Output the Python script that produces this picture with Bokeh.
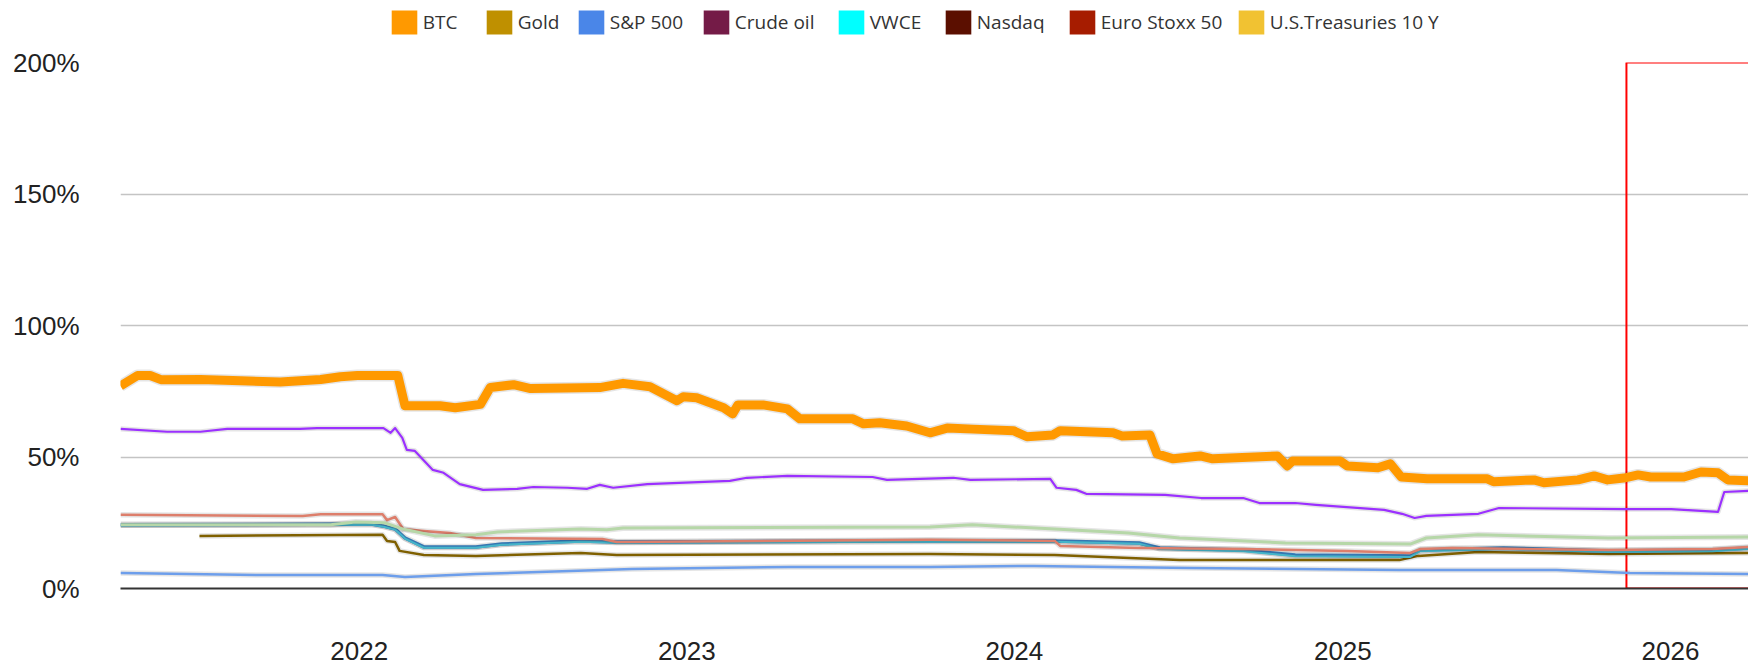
import pandas as pd
from bokeh.plotting import figure
from bokeh.layouts import column
from bokeh.models import (Legend, LegendItem, FixedTicker, DatetimeTickFormatter,
                          PrintfTickFormatter, Range1d, ColumnDataSource)
from bokeh.embed import file_html
from bokeh.resources import INLINE

# ---------------- data ----------------
legend_names = ["BTC", "Gold", "S&P 500", "Crude oil", "VWCE", "Nasdaq",
                "Euro Stoxx 50", "U.S.Treasuries 10 Y"]
legend_colors = ["#FF9900", "#BF9000", "#4A86E8", "#741B47", "#00FFFF",
                 "#5B0F00", "#A61C00", "#F1C232"]

y_ticks = [0, 50, 100, 150, 200]
x_tick_labels = ["2022", "2023", "2024", "2025", "2026"]

btc_dates = ["2021-04-10", "2021-04-29", "2021-05-13", "2021-05-25", "2021-07-08", "2021-08-22",
             "2021-10-05", "2021-11-19", "2021-12-11", "2021-12-30", "2022-02-13", "2022-02-21",
             "2022-04-01", "2022-04-18", "2022-05-16", "2022-05-27", "2022-06-22", "2022-07-11",
             "2022-09-26", "2022-10-22", "2022-11-21", "2022-12-21", "2022-12-28", "2023-01-12",
             "2023-02-11", "2023-02-21", "2023-02-27", "2023-03-27", "2023-04-23", "2023-05-07",
             "2023-07-05", "2023-07-17", "2023-08-04", "2023-09-03", "2023-09-29", "2023-10-18",
             "2023-11-16", "2023-12-31", "2024-01-15", "2024-02-13", "2024-02-21", "2024-04-20",
             "2024-04-30", "2024-05-31", "2024-06-08", "2024-06-26", "2024-07-26", "2024-08-09",
             "2024-10-20", "2024-10-31", "2024-11-06", "2024-12-29", "2025-01-06", "2025-02-09",
             "2025-02-23", "2025-03-07", "2025-04-05", "2025-06-11", "2025-06-18", "2025-08-02",
             "2025-08-13", "2025-09-20", "2025-10-08", "2025-10-23", "2025-11-10", "2025-11-26",
             "2025-12-10", "2026-01-16", "2026-02-04", "2026-02-23", "2026-03-06", "2026-03-29"]
btc_vals = [77, 81, 81, 79.4, 79.5, 79, 78.5, 79.5, 80.5, 81, 81, 69.5,
            69.5, 68.7, 70, 76.4, 77.5, 76, 76.4, 78, 76.7, 71.4, 72.9, 72.5,
            68.7, 66.4, 69.8, 69.8, 68.3, 64.5, 64.5, 62.6, 63, 61.8, 59.2, 61,
            60.6, 60, 57.7, 58.4, 60, 59.2, 58, 58.4, 51.2, 49.3, 50.4, 49.3,
            50.4, 46.6, 48.5, 48.5, 46.6, 45.9, 47.4, 42.4, 41.7, 41.7, 40.6, 41.3,
            40.2, 41.3, 42.8, 41.3, 42, 43.2, 42.4, 42.4, 44.3, 44, 41.3, 41]

purple_dates = ["2021-04-10", "2021-06-01", "2021-07-08", "2021-08-07", "2021-10-27", "2021-11-15",
                "2022-01-28", "2022-02-05", "2022-02-10", "2022-02-18", "2022-02-23", "2022-03-04",
                "2022-03-24", "2022-04-05", "2022-04-23", "2022-05-19", "2022-06-26", "2022-07-14",
                "2022-08-21", "2022-09-12", "2022-09-26", "2022-10-11", "2022-11-18", "2023-02-18",
                "2023-03-09", "2023-04-23", "2023-07-27", "2023-08-12", "2023-10-25", "2023-11-13",
                "2024-02-10", "2024-02-17", "2024-03-10", "2024-03-21", "2024-06-17", "2024-07-27",
                "2024-09-12", "2024-09-30", "2024-11-09", "2024-12-02", "2025-02-16", "2025-03-08",
                "2025-03-22", "2025-04-04", "2025-06-01", "2025-06-24", "2025-11-10", "2026-01-02",
                "2026-02-23", "2026-03-02", "2026-03-29"]
purple_vals = [60.7, 59.6, 59.6, 60.7, 60.7, 61, 61, 59.2, 61, 57.3, 52.7, 52.3,
               45.1, 44, 39.7, 37.5, 37.9, 38.6, 38.3, 37.9, 39.4, 38.3, 39.7, 40.9,
               42.1, 42.8, 42.4, 41.3, 42.1, 41.3, 41.7, 38.3, 37.5, 36, 35.6, 34.4,
               34.4, 32.5, 32.5, 31.8, 29.9, 28.4, 26.8, 27.6, 28.4, 30.6, 30.2, 30.2,
               29.1, 36.7, 37.1]

salmon_dates = ["2021-04-10", "2021-10-30", "2021-11-19", "2022-01-27", "2022-02-01", "2022-02-10",
                "2022-02-19", "2022-03-14", "2022-04-12", "2022-05-11", "2022-09-29", "2022-10-15",
                "2023-09-29", "2024-02-15", "2024-02-21", "2024-05-19", "2024-09-12", "2025-01-06",
                "2025-03-17", "2025-03-28", "2025-05-03", "2025-10-24", "2026-02-17", "2026-03-29"]
salmon_vals = [28, 27.6, 28.2, 28.2, 26, 27.2, 22.6, 21.9, 21.1, 19.2, 18.8, 17.7,
               18.5, 18.1, 16.2, 15.4, 15, 14.3, 13.5, 15, 15.4, 14.6, 15, 15.8]

green_dates = ["2021-04-10", "2021-11-30", "2021-12-28", "2022-01-29", "2022-02-19", "2022-03-26",
               "2022-05-11", "2022-06-04", "2022-09-05", "2022-10-04", "2022-10-22", "2023-09-29",
               "2023-11-15", "2024-02-15", "2024-05-07", "2024-07-03", "2024-10-29", "2025-03-17",
               "2025-04-04", "2025-06-01", "2025-10-24", "2026-03-29"]
green_vals = [24.2, 24.2, 25.3, 25, 22.6, 20, 20.4, 21.5, 22.6, 22.3, 23, 23.4,
              24.2, 22.6, 21.1, 19.2, 17.3, 16.9, 19.2, 20.4, 19.2, 19.6]

blue_dates = ["2021-04-10", "2022-01-14", "2022-01-27", "2022-02-10", "2022-02-21", "2022-03-14",
              "2022-05-11", "2022-06-09", "2022-09-05", "2022-10-15", "2023-09-29", "2024-02-15",
              "2024-05-19", "2024-06-11", "2024-09-12", "2024-11-09", "2025-03-17", "2025-03-28",
              "2025-06-29", "2025-10-24", "2026-02-17", "2026-03-29"]
blue_vals = [24.2, 24.5, 23.8, 22.6, 19.2, 15.8, 15.8, 16.9, 18.1, 17.7, 18.1, 18.1,
             17.3, 15.4, 14.6, 12.7, 12.4, 14.6, 15.4, 14.3, 14.6, 15.4]
teal_vals = [24.0, 24.3, 23.6, 22.4, 19.0, 15.5, 15.5, 16.6, 17.8, 17.4, 17.8, 17.8,
             17.0, 15.0, 14.2, 12.3, 12.0, 14.2, 15.0, 13.9, 14.2, 15.0]

olive_dates = ["2021-07-07", "2022-01-27", "2022-02-01", "2022-02-10", "2022-02-15", "2022-03-14",
               "2022-05-11", "2022-09-05", "2022-10-15", "2023-09-29", "2024-02-15", "2024-07-03",
               "2024-11-09", "2025-03-05", "2025-03-26", "2025-06-01", "2025-10-24", "2026-03-29"]
olive_vals = [20, 20.4, 18.1, 17.7, 14.3, 12.7, 12.4, 13.5, 12.7, 13.1, 12.7, 10.8,
              10.8, 10.8, 12.4, 13.9, 13.1, 13.5]

lightblue_dates = ["2021-04-10", "2021-09-20", "2022-01-27", "2022-02-21", "2022-05-11", "2022-11-01",
                   "2023-04-26", "2023-09-29", "2024-01-23", "2024-07-16", "2025-03-05", "2025-08-27",
                   "2025-11-17", "2026-03-29"]
lightblue_vals = [5.9, 5.1, 5.1, 4.4, 5.5, 7.4, 8.2, 8.2, 8.6, 7.8, 7, 7, 5.9, 5.5]

highlight_start = "2025-11-13"
highlight_end = "2026-12-31"

# ---------------- legend strip ----------------
W = 1748
FRAME_LEFT = 120  # frames of the column are aligned with the main chart

top = figure(width=W, height=40, x_range=Range1d(0, 1), y_range=Range1d(0, 1),
             output_backend="svg", toolbar_location=None,
             x_axis_location=None, y_axis_location=None,
             min_border_left=0, min_border_right=0, min_border_top=0, min_border_bottom=0,
             outline_line_color=None, border_fill_color="white")
top.xgrid.visible = False
top.ygrid.visible = False

legend_x = [391, 486, 578, 703, 838, 945, 1069, 1238]
for name, col, lx in zip(legend_names, legend_colors, legend_x):
    # swatch renderer kept outside the visible range; only its legend glyph shows
    r = top.quad(left=[5], right=[6], top=[6], bottom=[5], fill_color=col, line_color=None)
    lg = Legend(items=[LegendItem(label=name, renderers=[r])],
                location=(lx - 3.2 - FRAME_LEFT, 3), orientation="horizontal",
                padding=0, margin=0, spacing=0, glyph_width=32, glyph_height=30,
                label_standoff=3, label_text_font="Open Sans",
                label_text_font_size="19px", label_text_color="#333333",
                label_text_baseline="middle",
                border_line_color=None, background_fill_alpha=0)
    top.add_layout(lg, "center")

# ---------------- main chart ----------------
x_start = pd.Timestamp("2021-04-10")
x_end = pd.Timestamp("2026-03-29")

p = figure(width=W, height=625, x_axis_type="datetime",
           x_range=Range1d(x_start, x_end), y_range=Range1d(0, 200),
           output_backend="svg", toolbar_location=None,
           min_border_left=FRAME_LEFT, min_border_right=0, min_border_top=22,
           min_border_bottom=77, outline_line_color=None,
           background_fill_color="white", border_fill_color="white")

p.xgrid.visible = False
p.ygrid.grid_line_color = "#c4c4c4"
p.ygrid.grid_line_width = 1.5
p.ygrid.ticker = FixedTicker(ticks=y_ticks)

yax = p.yaxis[0]
yax.ticker = FixedTicker(ticks=y_ticks)
yax.formatter = PrintfTickFormatter(format="%d%%")
yax.axis_line_color = None
yax.major_tick_line_color = None
yax.minor_tick_line_color = None
yax.major_label_standoff = 35
yax.major_label_text_font = "Liberation Sans"
yax.major_label_text_font_size = "26px"
yax.major_label_text_color = "#222222"

year_ticks = [pd.Timestamp(f"{y}-01-01").value / 1e6 for y in x_tick_labels]
xax = p.xaxis[0]
xax.ticker = FixedTicker(ticks=year_ticks)
xax.formatter = DatetimeTickFormatter(years="%Y", months="%Y", days="%Y", hours="%Y",
                                      minutes="%Y", seconds="%Y", milliseconds="%Y",
                                      microseconds="%Y")
xax.axis_line_color = "#333333"
xax.axis_line_width = 2
xax.major_tick_line_color = None
xax.minor_tick_line_color = None
xax.major_label_standoff = 47
xax.major_label_text_font = "Liberation Sans"
xax.major_label_text_font_size = "26px"
xax.major_label_text_color = "#222222"

# highlight rectangle
p.quad(left=[pd.Timestamp(highlight_start)], right=[pd.Timestamp(highlight_end)],
       bottom=[y_ticks[0]], top=[y_ticks[-1]], fill_color=None,
       line_color="#FF0000", line_width=2)

series = [
    (lightblue_dates, lightblue_vals, "#6D9EEB", 2.5),
    (olive_dates, olive_vals, "#7F6000", 2.5),
    (blue_dates, blue_vals, "#3D85C6", 3.5),
    (blue_dates, teal_vals, "#45B5C9", 2),
    (salmon_dates, salmon_vals, "#DD7E6B", 2.5),
    (green_dates, green_vals, "#B6D7A8", 3),
    (purple_dates, purple_vals, "#9B30FF", 2.2),
    (btc_dates, btc_vals, "#FF9900", 9),
]
for d, v, c, w in series:
    src = ColumnDataSource(dict(x=pd.to_datetime(d), y=v))
    p.line("x", "y", source=src, line_color="#000000", line_alpha=0.10,
           line_width=w + 3, line_join="round")
    p.line("x", "y", source=src, line_color=c, line_width=w, line_join="round")

layout = column(top, p, spacing=0)
open("out.html", "w").write(file_html(layout, INLINE))
